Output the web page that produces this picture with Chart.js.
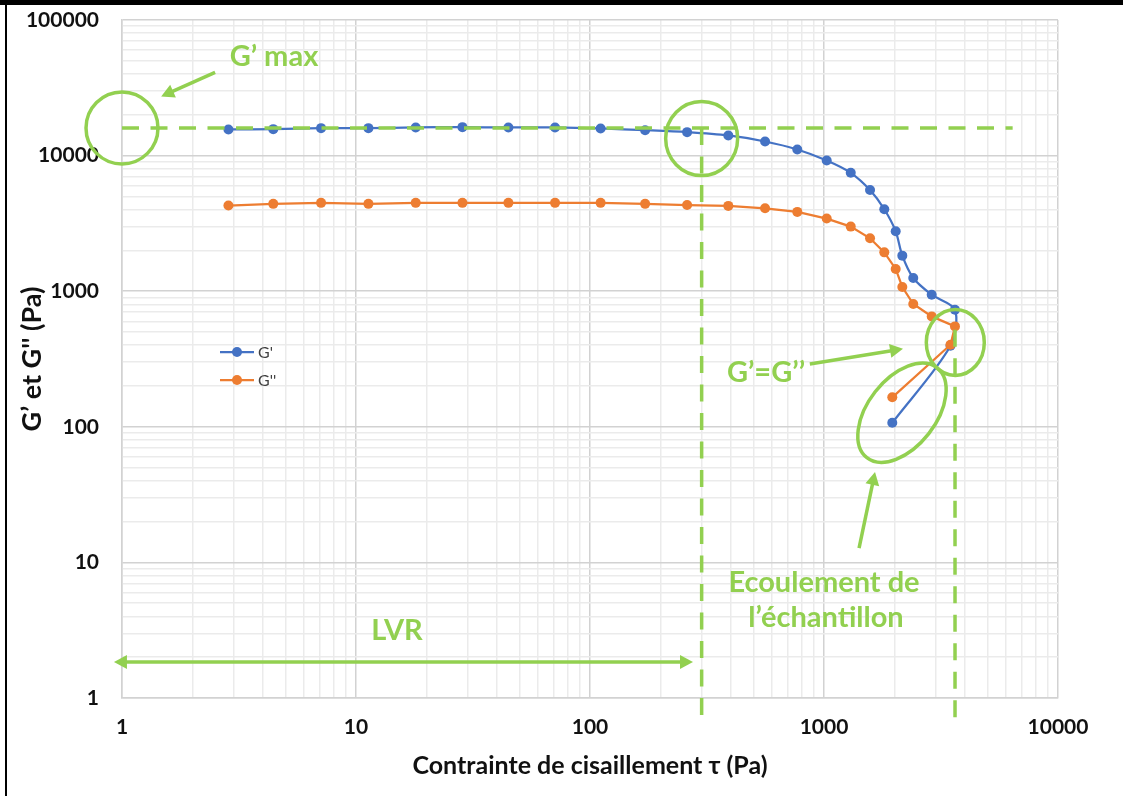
<!DOCTYPE html>
<html><head><meta charset="utf-8">
<script src="https://cdn.jsdelivr.net/npm/chart.js@4/dist/chart.umd.min.js"></script>
<style>
html,body{margin:0;padding:0;background:#fff;overflow:hidden}
canvas{display:block}
</style></head>
<body>
<canvas id="c" width="1123" height="796"></canvas>
<script>
// ---- data ----
const stress  = [2.85,4.43,7.09,11.3,18.0,28.5,44.8,70.9,111,172,260,390,560,769,1027,1301,1573,1810,2025,2161,2407,2886,3628,3472,1958];
const gPrime  = [15590,15670,15940,15940,16130,16210,16130,16130,15850,15400,14890,14070,12710,11100,9200,7465,5570,4020,2765,1829,1252,942,730,396,107];
const gSecond = [4280,4406,4481,4406,4481,4481,4481,4481,4481,4406,4317,4258,4088,3845,3432,2995,2455,1934,1459,1074,804,652,550,403,165];
const xTickLabels = [1,10,100,1000,10000];
const yTickLabels = [1,10,100,1000,10000,100000];
const seriesNames = ["G'", "G''"];

// annotation anchors, in data values
const gMaxLine   = [1, 6400, 16000];       // x from, x to, y
const lvrLine    = [300, 16000, 0.71];     // x, y from, y to
const flowLine   = [3630, 520, 0.71];      // x, y from, y to
const circles    = [[1,16000,36,36,0],[300,13370,36,37,0],[3640,419,29,33,0],[2154,127,57,34,-52]]; // x,y,rx,ry,rotDeg
const arrows     = [[2.50,41100,1.47,27330,false],[275.5,1.845,0.924,1.845,true],[870,290,2176,376,false],[1412,12.75,1652,46.4,false]];
const labels     = [["G’ max",4.46,53960],["LVR",14.97,3.16],["G’=G’’",565,250],["Ecoulement de",1000,7.15],["l’échantillon",1020,3.94]];

const BLUE = '#4472C4', ORANGE = '#ED7D31', GREEN = '#92D050';
const FONT = 'Lato, "Open Sans", sans-serif';

function buildTicks(majors){
  const t = [];
  for (let i = 0; i < majors.length; i++){
    t.push({value: majors[i]});
    if (i < majors.length - 1) for (let k = 2; k <= 9; k++) t.push({value: majors[i]*k});
  }
  return t;
}
const isMajor = v => Math.abs(Math.log10(v) - Math.round(Math.log10(v))) < 1e-9;

const annotPlugin = {
  id: 'annot',
  beforeDraw(chart){
    const c = chart.ctx;
    c.save(); c.fillStyle = '#fff'; c.fillRect(0,0,chart.width,chart.height); c.restore();
  },
  afterDatasetsDraw(chart){
    const c = chart.ctx, X = chart.scales.x, Y = chart.scales.y;
    const px = v => X.getPixelForValue(v), py = v => Y.getPixelForValue(v);
    c.save();
    c.strokeStyle = GREEN; c.fillStyle = GREEN; c.lineWidth = 3.5;
    // dashed lines
    c.setLineDash([17, 11.5]);
    c.beginPath(); c.moveTo(px(gMaxLine[0]), py(gMaxLine[2])); c.lineTo(px(gMaxLine[1]), py(gMaxLine[2])); c.stroke();
    c.beginPath(); c.moveTo(px(lvrLine[0]), py(lvrLine[1])); c.lineTo(px(lvrLine[0]), py(lvrLine[2])); c.stroke();
    c.beginPath(); c.moveTo(px(flowLine[0]), py(flowLine[1])); c.lineTo(px(flowLine[0]), py(flowLine[2])); c.stroke();
    c.setLineDash([]);
    // circles / ellipses
    c.lineWidth = 3.5;
    circles.forEach(([x,y,rx,ry,rot]) => {
      c.beginPath(); c.ellipse(px(x), py(y), rx, ry, rot*Math.PI/180, 0, Math.PI*2); c.stroke();
    });
    // arrows
    const head = (x1,y1,x2,y2) => {
      const a = Math.atan2(y2-y1, x2-x1), L = 13, W = 7;
      c.beginPath();
      c.moveTo(x2, y2);
      c.lineTo(x2 - L*Math.cos(a) + W*Math.sin(a), y2 - L*Math.sin(a) - W*Math.cos(a));
      c.lineTo(x2 - L*Math.cos(a) - W*Math.sin(a), y2 - L*Math.sin(a) + W*Math.cos(a));
      c.closePath(); c.fill();
    };
    c.lineWidth = 3.5;
    arrows.forEach(([x1,y1,x2,y2,both]) => {
      const X1 = px(x1), Y1 = py(y1), X2 = px(x2), Y2 = py(y2);
      const a = Math.atan2(Y2-Y1, X2-X1);
      const sx = both ? X1 + 10*Math.cos(a) : X1, sy = both ? Y1 + 10*Math.sin(a) : Y1;
      c.beginPath(); c.moveTo(sx, sy); c.lineTo(X2 - 10*Math.cos(a), Y2 - 10*Math.sin(a)); c.stroke();
      head(X1,Y1,X2,Y2);
      if (both) head(X2,Y2,X1,Y1);
    });
    // labels
    c.font = 'bold 29px ' + FONT; c.textAlign = 'center'; c.textBaseline = 'middle';
    labels.forEach(([t,x,y]) => c.fillText(t, px(x), py(y)));
    c.restore();
  },
  afterDraw(chart){
    const c = chart.ctx;
    c.save();
    // legend
    const items = [[seriesNames[0], BLUE, 352], [seriesNames[1], ORANGE, 380]];
    items.forEach(([t,col,y]) => {
      c.strokeStyle = col; c.fillStyle = col; c.lineWidth = 2.25;
      c.beginPath(); c.moveTo(220, y); c.lineTo(254, y); c.stroke();
      c.beginPath(); c.arc(237, y, 5, 0, Math.PI*2); c.fill();
      c.fillStyle = '#404040'; c.font = '16px ' + FONT; c.textAlign = 'left'; c.textBaseline = 'middle';
      c.fillText(t, 258, y + 1);
    });
    // page frame
    c.fillStyle = '#000';
    c.fillRect(0, 0, chart.width, 5);
    c.fillRect(5, 0, 2, chart.height);
    c.restore();
  }
};

const gridColor = ctx => (ctx.tick && isMajor(ctx.tick.value)) ? '#d2d2d2' : '#ebebeb';

new Chart(document.getElementById('c'), {
  type: 'line',
  data: {
    datasets: [
      { label: seriesNames[0], data: stress.map((x,i)=>({x, y: gPrime[i]})),
        borderColor: BLUE, backgroundColor: BLUE, borderWidth: 2.25, pointRadius: 5, pointBorderWidth: 0,
        pointBackgroundColor: BLUE, tension: 0.3, order: 2, fill: false },
      { label: seriesNames[1], data: stress.map((x,i)=>({x, y: gSecond[i]})),
        borderColor: ORANGE, backgroundColor: ORANGE, borderWidth: 2.25, pointRadius: 5, pointBorderWidth: 0,
        pointBackgroundColor: ORANGE, tension: 0, order: 1, fill: false }
    ]
  },
  options: {
    responsive: false, animation: false, devicePixelRatio: 1,
    layout: { padding: { top: 20, right: 65, left: 0, bottom: 0 } },
    plugins: { legend: { display: false }, tooltip: { enabled: false } },
    scales: {
      x: {
        type: 'logarithmic', min: 1, max: 10000,
        afterBuildTicks: s => { s.ticks = buildTicks(xTickLabels); },
        afterFit: s => { s.height = 98; s.paddingLeft = 0; s.paddingRight = 0; },
        grid: { color: gridColor, lineWidth: 1.5, drawTicks: false },
        border: { color: '#d2d2d2', width: 1.5 },
        ticks: { autoSkip: false, maxRotation: 0, padding: 17, color: '#111',
          font: { family: FONT, weight: 'bold', size: 21 },
          callback: v => xTickLabels.includes(v) ? String(v) : '' },
        title: { display: true, text: 'Contrainte de cisaillement τ (Pa)', color: '#111',
          font: { family: FONT, weight: 'bold', size: 25 }, padding: { top: 0, bottom: 15 } }
      },
      y: {
        type: 'logarithmic', min: 1, max: 100000,
        afterBuildTicks: s => { s.ticks = buildTicks(yTickLabels); },
        afterFit: s => { s.width = 122; s.paddingTop = 0; s.paddingBottom = 0; },
        grid: { color: gridColor, lineWidth: 1.5, drawTicks: false },
        border: { color: '#d2d2d2', width: 1.5 },
        ticks: { autoSkip: false, padding: 23, color: '#111',
          font: { family: FONT, weight: 'bold', size: 21 },
          callback: v => yTickLabels.includes(v) ? String(v) : '' },
        title: { display: true, text: "G’ et G'' (Pa)", color: '#111',
          font: { family: FONT, weight: 'bold', size: 27 }, padding: { top: 16, bottom: 0 } }
      }
    }
  },
  plugins: [annotPlugin]
});
</script>
</body></html>
